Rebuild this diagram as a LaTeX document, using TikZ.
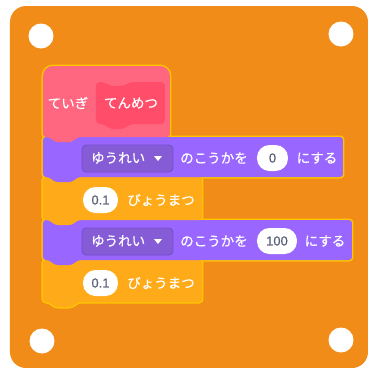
\documentclass[tikz,border=0pt]{standalone}
\usepackage{fontspec}
\newfontfamily\cjk{Noto Sans CJK JP}[FakeBold=0.4]
\newfontfamily\numfont{Liberation Sans}[FakeBold=0.5]
\definecolor{board}{HTML}{F28C18}
\definecolor{hatpink}{HTML}{FF6680}
\definecolor{innerpink}{HTML}{FF4D6A}
\definecolor{motion}{HTML}{9966FF}
\definecolor{motiondark}{HTML}{855CD6}
\definecolor{motionline}{HTML}{774DCB}
\definecolor{ctrl}{HTML}{FFAB19}
\definecolor{glow}{HTML}{FFC400}
\definecolor{numgray}{HTML}{575E75}
\tikzset{
  hole/.style={circle,fill=white,minimum size=25pt,inner sep=0pt},
  lbl/.style={text=white,font=\cjk\fontsize{13.5}{13.5}\selectfont,inner sep=0pt},
  oval/.style={fill=white,rounded corners=12.5pt,minimum height=26pt,inner sep=0pt,
    text=numgray,font=\numfont\fontsize{13}{13}\selectfont},
  ddbox/.style={fill=motiondark,draw=motionline,line width=0.8pt,rounded corners=4pt,
    minimum width=91pt,minimum height=27pt,inner sep=0pt},
  glowline/.style={draw=glow,line width=3pt,rounded corners=3pt},
  blockfill/.style={rounded corners=3pt}
}
\newcommand\blkpath[4]{(#1,#2) -- (#3,#2) -- (#3,#4) -- (#1+35,#4) -- (#1+29,#4+5) -- (#1+12,#4+5) -- (#1+6,#4) -- (#1,#4) -- cycle}
\newcommand\hatpath{(43,100) [rounded corners=10pt] -- (43,66) -- (170,66) [rounded corners=3pt] -- (170,137) -- (43+35,137) -- (43+29,137+5) -- (43+12,137+5) -- (43+6,137) -- (43,137) -- cycle}
\begin{document}
\begin{tikzpicture}[x=1pt,y=-1pt]
\useasboundingbox (0,0) rectangle (368,368);
\fill[white] (0,0) rectangle (368,368);
\fill[board,rounded corners=16pt] (10,6) rectangle (368,368);
\node[hole] (h1) at (41,36) {};
\node[hole] (h2) at (341,34) {};
\node[hole] (h3) at (42,341) {};
\node[hole] (h4) at (341,340) {};
% glow outline (drawn behind all blocks)
\path[glowline] \blkpath{43}{260}{202}{302};
\path[glowline] \blkpath{43}{220}{352}{260};
\path[glowline] \blkpath{43}{177}{202}{220};
\path[glowline] \blkpath{43}{137}{343}{177};
\path[draw=glow,line width=3pt] \hatpath;
% fills, bottom first so tabs overlay
\fill[ctrl,blockfill] \blkpath{43}{260}{202}{302};
\fill[motion,blockfill] \blkpath{43}{220}{352}{260};
\fill[ctrl,blockfill] \blkpath{43}{177}{202}{220};
\fill[motion,blockfill] \blkpath{43}{137}{343}{177};
\fill[hatpink] \hatpath;
% inner define block
\fill[innerpink,rounded corners=4pt] (96,82) -- (104,82) -- (110,86) -- (124,86) -- (130,82) -- (165,82) -- (165,124) -- (130,124) -- (124,129) -- (110,129) -- (104,124) -- (96,124) -- cycle;
\node[lbl] (teigi) at (68,103) {ていぎ};
\node[lbl] (tenmetsu) at (131,103) {てんめつ};
% motion block 1
\node[ddbox] (dd1) at (127.5,158.5) {};
\node[lbl,anchor=west] (yurei1) at (91,158) {ゆうれい};
\fill[white] (154,156) -- (162,156) -- (158,161) -- cycle;
\node[lbl] (kouka1) at (214,158) {のこうかを};
\node[oval,minimum width=31pt] (v1) at (272.5,158) {0};
\node[lbl] (suru1) at (317,158) {にする};
% wait block 1
\node[oval,minimum width=35pt] (w1) at (100.5,200) {0.1};
\node[lbl] (byo1) at (161,200) {びょうまつ};
% motion block 2
\node[ddbox] (dd2) at (127.5,241.5) {};
\node[lbl,anchor=west] (yurei2) at (91,241) {ゆうれい};
\fill[white] (154,239) -- (162,239) -- (158,244) -- cycle;
\node[lbl] (kouka2) at (214,241) {のこうかを};
\node[oval,minimum width=40pt] (v2) at (277,241) {100};
\node[lbl] (suru2) at (325,241) {にする};
% wait block 2
\node[oval,minimum width=35pt] (w2) at (100.5,283) {0.1};
\node[lbl] (byo2) at (161,283) {びょうまつ};
\end{tikzpicture}
\end{document}
